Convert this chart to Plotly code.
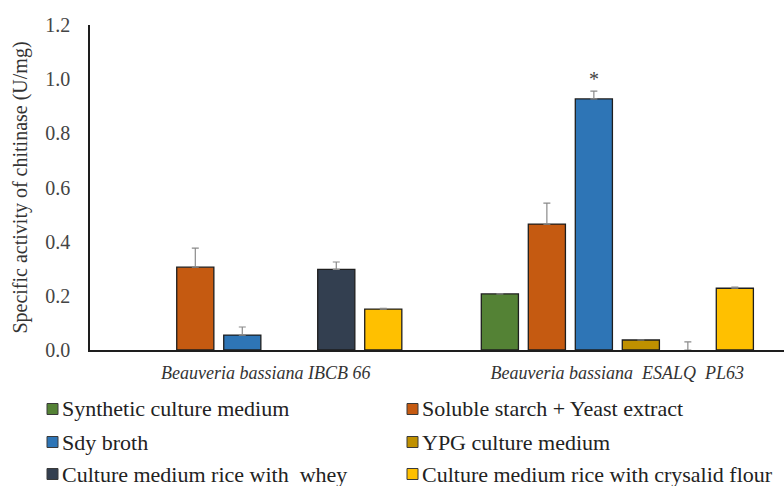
import plotly.graph_objects as go

# Chitinase specific activity (U/mg) per strain and culture medium
strains = ["Beauveria bassiana IBCB 66", "Beauveria bassiana\u00a0 ESALQ\u00a0 PL63"]
media = [
    "Synthetic culture medium",
    "Soluble starch + Yeast extract",
    "Sdy broth",
    "YPG culture medium",
    "Culture medium rice with\u00a0 whey",
    "Culture medium rice with crysalid flour",
]
synthetic = [None, 0.207]
synthetic_err = [None, 0.0]
soluble_starch = [0.306, 0.465]
soluble_starch_err = [0.070, 0.077]
sdy_broth = [0.055, 0.927]
sdy_broth_err = [0.030, 0.029]
ypg = [None, 0.037]
ypg_err = [None, 0.0]
rice_whey = [0.298, 0.0]
rice_whey_err = [0.027, 0.030]
rice_crysalid = [0.151, 0.228]
rice_crysalid_err = [0.003, 0.004]

colors = ["#548235", "#C55A11", "#2E75B6", "#BF9000", "#333F50", "#FFC000"]
series = [synthetic, soluble_starch, sdy_broth, ypg, rice_whey, rice_crysalid]
errors = [synthetic_err, soluble_starch_err, sdy_broth_err, ypg_err, rice_whey_err, rice_crysalid_err]

SERIF = "Liberation Serif"
W, H = 784, 486
ML, MR, MT, MB = 90, 0, 25, 136
BARGAP = 0.198

fig = go.Figure()
for name, vals, errs, col in zip(media, series, errors, colors):
    # no outline on zero-height bars, so only their error whisker shows
    outline = [0 if (v is None or v == 0) else 1.3 for v in vals]
    fig.add_trace(go.Bar(
        name=name, x=strains, y=vals,
        marker=dict(color=col, line=dict(color="#1e1e1e", width=outline)),
        error_y=dict(type="data", array=errs, arrayminus=[0] * len(errs), symmetric=False,
                     color="#8a8a8a", thickness=1.2, width=3.5),
        showlegend=False,
    ))

# significance mark above the Sdy broth bar of the second strain
slot = (1 - BARGAP) / len(media)
fig.add_annotation(
    x=1 + (2 - (len(media) - 1) / 2) * slot, xref="x",
    y=sdy_broth[1] + sdy_broth_err[1], yref="y",
    text="*", showarrow=False, yanchor="bottom", yshift=-1,
    font=dict(family=SERIF, size=20, color="#444"),
)

# legend drawn as two columns of swatches and labels below the axis
pw, ph = W - ML - MR, H - MT - MB
def px_x(p):
    return (p - ML) / pw
def px_y(p):
    return (H - MB - p) / ph

col_x = [47, 407]
row_y = [409, 442, 474]
for i, (name, col) in enumerate(zip(media, colors)):
    cx = col_x[i % 2]
    cy = row_y[i // 2]
    fig.add_shape(type="rect", xref="paper", yref="paper",
                  x0=px_x(cx), x1=px_x(cx + 11), y0=px_y(cy + 5.5), y1=px_y(cy - 5.5),
                  fillcolor=col, line=dict(color="#3a3a3a", width=1))
    fig.add_annotation(xref="paper", yref="paper", x=px_x(cx + 13), y=px_y(cy),
                       xanchor="left", yanchor="middle", text=name, showarrow=False,
                       font=dict(family=SERIF, size=22, color="#222"))

fig.update_layout(
    width=W, height=H,
    margin=dict(l=ML, r=MR, t=MT, b=MB),
    barmode="group", bargap=BARGAP, bargroupgap=0.21,
    plot_bgcolor="white", paper_bgcolor="white",
    font=dict(family=SERIF, color="#333"),
)
fig.update_xaxes(
    range=[-0.5, 1.474], showline=True, linecolor="#1e1e1e", linewidth=1.5,
    ticks="", showgrid=False, ticklabelstandoff=6,
    tickfont=dict(family=SERIF, size=18, color="#333", style="italic"),
)
fig.update_yaxes(
    range=[0, 1.2], dtick=0.2, tickformat=".1f", showline=True, linecolor="#1e1e1e",
    linewidth=1.5, ticks="", showgrid=False, zeroline=False, ticklabelstandoff=14,
    tickfont=dict(family=SERIF, size=20, color="#444"),
    title=dict(text="Specific activity of chitinase (U/mg)", standoff=12,
               font=dict(family=SERIF, size=20, color="#333")),
)

fig.write_html("out.html")
